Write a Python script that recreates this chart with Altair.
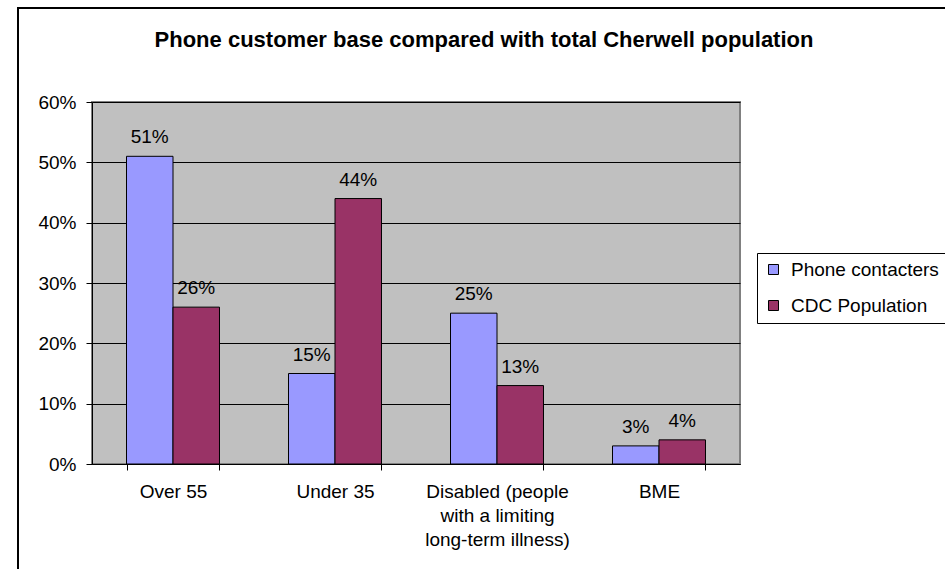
import altair as alt
import pandas as pd
import json

categories = ["Over 55", "Under 35", "Disabled (people with a limiting long-term illness)", "BME"]
label_lines = [["Over 55"], ["Under 35"], ["Disabled (people", "with a limiting", "long-term illness)"], ["BME"]]
series = ["Phone contacters", "CDC Population"]
phone = [0.51, 0.15, 0.25, 0.03]
cdc = [0.26, 0.44, 0.13, 0.04]
y_ticks = [0, 0.1, 0.2, 0.3, 0.4, 0.5, 0.6]
colors = ["#9999FF", "#993366"]

rows = []
for c, p, d in zip(categories, phone, cdc):
    rows.append({"cat": c, "series": series[0], "value": p})
    rows.append({"cat": c, "series": series[1], "value": d})
df = pd.DataFrame(rows)

expr_parts = []
for c, l in zip(categories, label_lines):
    expr_parts.append(f"datum.label == {json.dumps(c)} ? {json.dumps(l)}")
label_expr = " : ".join(expr_parts) + " : datum.label"

FONT = "Liberation Sans"
FS = 19

x = alt.X("cat:N", sort=categories, title=None,
          scale=alt.Scale(paddingInner=0.426, paddingOuter=0.213),
          axis=alt.Axis(labelAngle=0, labelExpr=label_expr, tickBand="extent",
                        labelFontSize=FS, labelFont=FONT, labelColor="#000000",
                        labelPadding=12, labelLineHeight=24,
                        domainColor="#000000", tickColor="#000000", tickSize=6,
                        grid=False))
y = alt.Y("value:Q", title=None,
          scale=alt.Scale(domain=[0, 0.6], nice=False),
          axis=alt.Axis(format=".0%", values=y_ticks, labelFontSize=FS, labelFont=FONT,
                        labelColor="#000000", labelPadding=10,
                        domainColor="#000000", tickColor="#000000", tickSize=6,
                        grid=True, gridColor="#000000", gridWidth=1))
xo = alt.XOffset("series:N", sort=series)

bars = alt.Chart(df).mark_bar(stroke="#000000", strokeWidth=1).encode(
    x=x, y=y, xOffset=xo,
    color=alt.Color("series:N", sort=series,
                    scale=alt.Scale(domain=series, range=colors),
                    legend=alt.Legend(title=None, orient="none", legendX=665, legendY=151,
                                      labelFontSize=FS, labelFont=FONT, labelColor="#000000",
                                      symbolType="square", symbolSize=100, labelOffset=8,
                                      symbolStrokeColor="#000000", symbolStrokeWidth=1,
                                      strokeColor="#000000", fillColor="#FFFFFF",
                                      padding=7, rowPadding=16, labelLimit=400)),
)

labels = alt.Chart(df).mark_text(baseline="bottom", dy=-9, fontSize=FS, font=FONT,
                                 color="#000000").encode(
    x=alt.X("cat:N", sort=categories), y="value:Q", xOffset=xo,
    text=alt.Text("value:Q", format=".0%"),
)

frame = alt.Chart(df).mark_rect(fill=None, stroke="#000000", strokeWidth=2).encode(
    x=alt.value(-74), x2=alt.value(870), y=alt.value(-94), y2=alt.value(480)
)

chart = alt.layer(frame, bars, labels).properties(
    width=648, height=362,
    padding={"left": 92, "top": 102, "right": 205, "bottom": 105},
    autosize=alt.AutoSizeParams(type="none"),
    title=alt.TitleParams("Phone customer base compared with total Cherwell population",
                          fontSize=22, font=FONT, fontWeight="bold", color="#000000",
                          anchor="middle", frame="group", dx=68, offset=-45),
    background="#FFFFFF",
).configure_view(fill="#C0C0C0", stroke="#808080", strokeWidth=2)

chart.save("out.html", embed_options={"renderer": "svg", "actions": False})
